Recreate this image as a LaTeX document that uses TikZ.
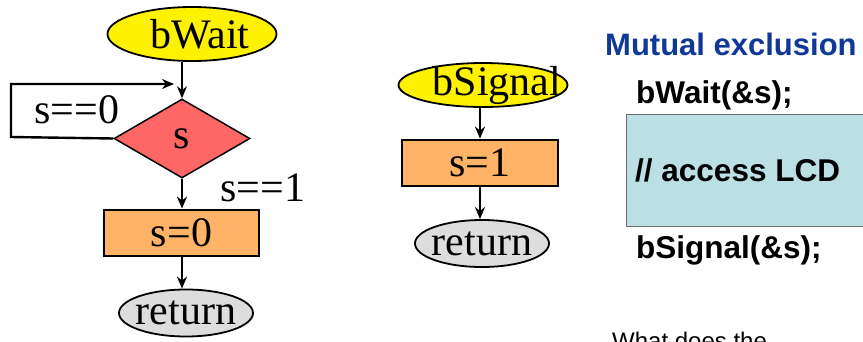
\documentclass[tikz,border=0pt]{standalone}
\usepackage{fontspec}
\setmainfont{Liberation Serif}
\newfontfamily\arialf{Liberation Sans}
\usetikzlibrary{shapes.geometric,arrows.meta}
\definecolor{ttlblue}{RGB}{16,56,150}
\definecolor{boxfill}{RGB}{187,224,227}
\definecolor{boxline}{RGB}{110,110,110}
\definecolor{orfill}{RGB}{255,179,102}
\definecolor{dmfill}{RGB}{255,102,102}
\definecolor{retfill}{RGB}{221,221,221}
\tikzset{
  serif/.style={font=\fontsize{42}{44}\selectfont},
  startell/.style={ellipse, draw=black, line width=1.8pt, fill=yellow, inner sep=0pt},
  retell/.style={ellipse, draw=black, line width=1.8pt, fill=retfill, inner sep=0pt, minimum width=134pt, minimum height=47pt},
  actbox/.style={rectangle, draw=black, line width=2.8pt, fill=orfill, inner sep=0pt, minimum width=155pt, minimum height=46pt, serif},
  decis/.style={diamond, draw=black, line width=1.5pt, fill=dmfill, inner sep=0pt, minimum width=136pt, minimum height=79pt, serif},
  arr/.style={line width=2.4pt, -{Stealth[length=12pt,width=10pt]}},
  lbl/.style={serif, inner sep=0pt},
  boldsans/.style={font=\arialf\bfseries\fontsize{31.5}{34}\selectfont, inner sep=0pt, anchor=base west},
}
\begin{document}
\begin{tikzpicture}[x=1pt,y=-1pt]
\useasboundingbox (0,0) rectangle (863,341);
% ---- bWait flow ----
\node[startell, minimum width=169pt, minimum height=54pt,
      label={[serif, xshift=8pt]center:bWait}] (bw) at (192,34) {};
\node[decis] (dec) at (182,138.5) {s};
\node[actbox] (s0) at (181.5,233) {s=0};
\node[retell, label={[serif]center:return}] (ret1) at (186,313) {};
\coordinate (lc1) at (11,137);
\coordinate (lc2) at (11,84);
\coordinate (lend) at (174,84);
\draw[arr] (bw.south -| dec.north) -- (dec.north);
\draw[arr] (dec.west) -- (lc1) -- (lc2) -- (lend);
\draw[arr] (dec.south) -- (s0.north -| dec.south);
\draw[arr] (s0.south -| dec.south) -- (ret1.north -| dec.south);
\node[lbl] (l0) at (77,110) {s==0};
\node[lbl] (l1) at (263,188) {s==1};
% ---- bSignal flow ----
\node[startell, minimum width=169pt, minimum height=44pt,
      label={[serif, xshift=14pt]center:bSignal}] (bs) at (483,85) {};
\node[actbox, minimum width=156pt] (s1) at (480,163) {s=1};
\node[retell, label={[serif]center:return}] (ret2) at (482,243.5) {};
\draw[arr] (bs.south -| s1.north) -- (s1.north);
\draw[arr] (s1.south) -- (ret2.north -| s1.south);
% ---- right text ----
\node[boldsans, font=\arialf\bfseries\fontsize{31}{33}\selectfont, text=ttlblue] (ttl) at (605,55) {Mutual exclusion};
\node[boldsans] (wt) at (636,103) {bWait(\&s);};
\node[rectangle, draw=boxline, line width=1.2pt, fill=boxfill, anchor=north west,
      minimum width=300pt, minimum height=112pt, inner sep=0pt] (cs) at (626,114) {};
\node[boldsans] (acc) at (635,181) {// access LCD};
\node[boldsans] (sg) at (636,258) {bSignal(\&s);};
\node[font=\arialf\fontsize{24}{26}\selectfont, inner sep=0pt, anchor=base west] (q) at (612,349) {What does the};
\end{tikzpicture}
\end{document}
